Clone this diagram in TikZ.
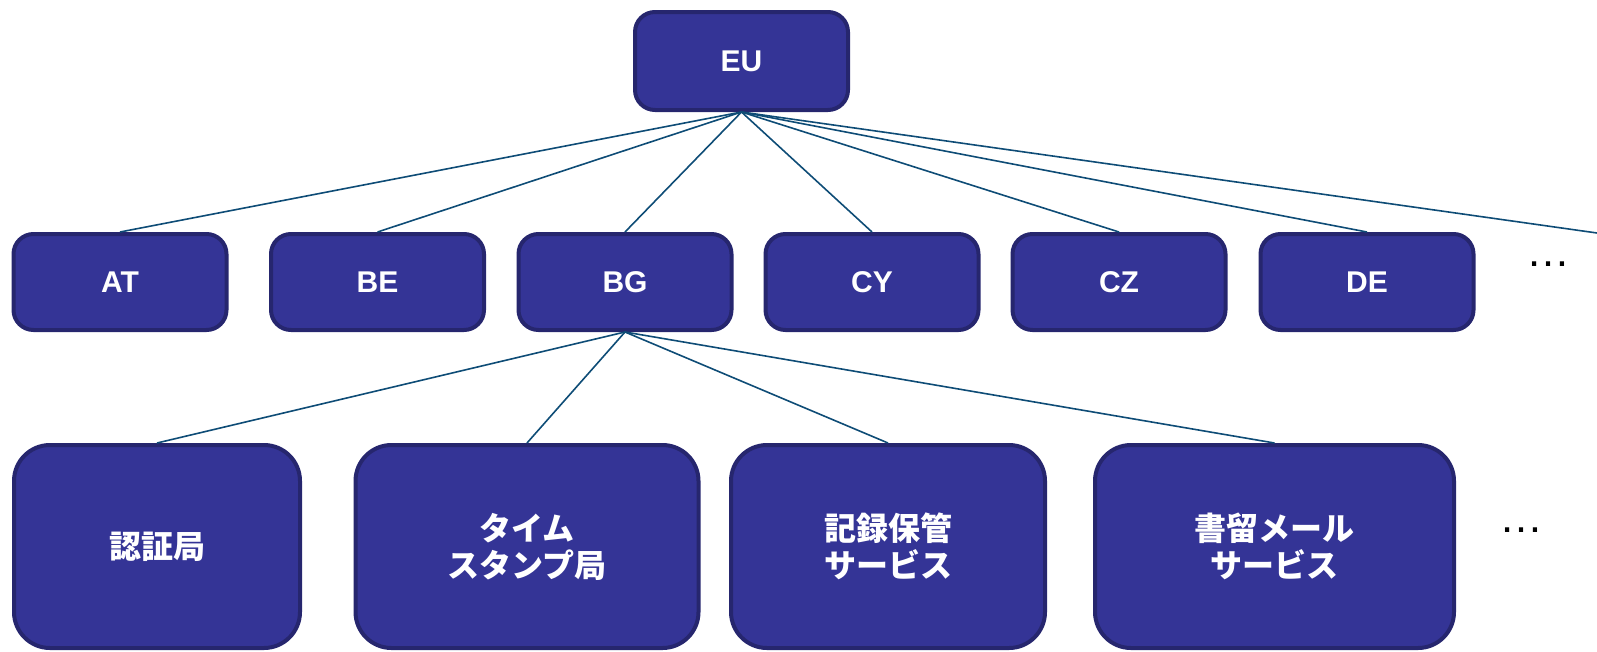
\documentclass[tikz,border=0pt]{standalone}
\usepackage{fontspec}
\setmainfont{Liberation Sans}
\newfontfamily\jpfont{Noto Sans CJK JP}
\usetikzlibrary{positioning}
\definecolor{boxfill}{RGB}{52,52,150}
\definecolor{boxline}{RGB}{38,38,110}
\definecolor{linkcol}{RGB}{14,76,118}
\tikzset{
  state/.style={draw=boxline, fill=boxfill, line width=4pt, rounded corners=20pt,
    text=white, font=\fontsize{30}{34}\selectfont\bfseries,
    minimum width=213pt, minimum height=96pt, inner sep=0pt},
  service/.style={state, rounded corners=36pt, minimum height=203pt, align=center,
    font=\jpfont\fontsize{32}{37}\selectfont\bfseries},
  link/.style={draw=linkcol, line width=1.6pt},
  more/.style={font=\fontsize{44}{48}\selectfont, inner sep=0pt}
}
\begin{document}
\begin{tikzpicture}[x=1pt,y=-1pt]
	\useasboundingbox (0,0) rectangle (1597,651);
	\node[state, minimum height=98pt] (eu) at (741.5,61) {EU};
	\foreach \id/\x/\txt in {at/120/AT, be/377.5/BE, bg/625/BG, cy/872/CY, cz/1119/CZ, de/1367/DE}
		\node[state] (\id) at (\x,282) {\txt};
	\node[more] (moremember) at (1548,264) {…};
	\coordinate (offright) at (1597,233);
	\node[service, minimum width=286pt] (ca) at (157,546.5) {認証局};
	\node[service, minimum width=343pt] (tsa) at (527,546.5) {タイム\\スタンプ局};
	\node[service, minimum width=314pt] (archive) at (888,546.5) {記録保管\\サービス};
	\node[service, minimum width=359pt] (rem) at (1274.5,546.5) {書留メール\\サービス};
	\node[more] (moreservice) at (1521,530) {…};
	\foreach \id in {at,be,bg,cy,cz,de}
		\draw[link] (eu.south) -- (\id.north);
	\draw[link] (eu.south) -- (offright);
	\foreach \id in {ca,tsa,archive,rem}
		\draw[link] (bg.south) -- (\id.north);
\end{tikzpicture}
\end{document}
